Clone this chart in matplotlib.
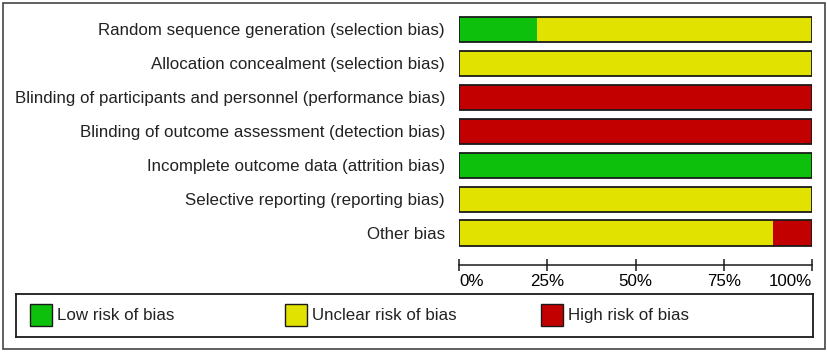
import matplotlib
matplotlib.use('Agg')
import matplotlib.pyplot as plt
import numpy as np
from matplotlib.patches import Rectangle

matplotlib.rc('font', family=['Liberation Sans', 'DejaVu Sans'], size=12.2)

domains = [
    'Random sequence generation (selection bias)',
    'Allocation concealment (selection bias)',
    'Blinding of participants and personnel (performance bias)',
    'Blinding of outcome assessment (detection bias)',
    'Incomplete outcome data (attrition bias)',
    'Selective reporting (reporting bias)',
    'Other bias',
]
# number of studies (out of 9) per judgement
low = np.array([2, 0, 0, 0, 9, 0, 0])
unclear = np.array([7, 9, 0, 0, 0, 9, 8])
high = np.array([0, 0, 9, 9, 0, 0, 1])
n_studies = 9

legend_labels = ['Low risk of bias', 'Unclear risk of bias', 'High risk of bias']
colors = ['#0cc00c', '#e2e200', '#c20000']
edge = '#1a1a1a'

W, H = 827, 354
fig = plt.figure(figsize=(W / 100, H / 100), dpi=100)

# outer border
fig.patches.append(Rectangle((3 / W, 5 / H), 822 / W, 346 / H, transform=fig.transFigure,
                             fill=False, edgecolor='#444444', linewidth=1.2))

ax = fig.add_axes([459 / W, 1 - 250 / H, 353 / W, 237.5 / H])
y = np.arange(len(domains))
pct_low = low / n_studies * 100
pct_unc = unclear / n_studies * 100
pct_high = high / n_studies * 100
segs = [pct_low, pct_unc, pct_high]
h = 0.74
for i in range(len(domains)):
    left = 0
    for s, c in zip(segs, colors):
        if s[i] > 0:
            ax.barh(y[i], s[i], left=left, height=h, color=c, edgecolor='none')
        left += s[i]
    ax.barh(y[i], 100, height=h, fill=False, edgecolor=edge, linewidth=1.3)

ax.set_xlim(0, 100)
ax.set_ylim(len(domains) - 0.5, -0.5)
ax.set_yticks(y)
ax.set_yticklabels(domains, color='#222222')
ax.tick_params(axis='y', length=0, pad=10)
ax.tick_params(axis='x', direction='inout', length=8.6, width=1.1, pad=2, color=edge)
ax.set_xticks([0, 25, 50, 75, 100])
ax.set_xticklabels(['0%', '25%', '50%', '75%', '100%'], color='#222222')
for s in ['top', 'left', 'right']:
    ax.spines[s].set_visible(False)
ax.spines['bottom'].set_position(('outward', 10.8))
ax.spines['bottom'].set_color(edge)
ax.spines['bottom'].set_linewidth(1.1)
ax.spines['bottom'].set_bounds(0, 100)
ax.patch.set_visible(False)

# legend box
lx0, lx1, ly0, ly1 = 16, 813, 294, 337
lax = fig.add_axes([lx0 / W, 1 - ly1 / H, (lx1 - lx0) / W, (ly1 - ly0) / H])
lax.set_xlim(lx0, lx1)
lax.set_ylim(ly1, ly0)
lax.set_xticks([])
lax.set_yticks([])
for s in lax.spines.values():
    s.set_color(edge)
    s.set_linewidth(1.3)
for xs, lab, c in zip([30, 285, 541], legend_labels, colors):
    lax.add_patch(Rectangle((xs, 304), 22, 22, facecolor=c, edgecolor=edge, linewidth=1))
    lax.text(xs + 27, 315.5, lab, va='center', ha='left', color='#222222')

# end labels sit inside the axis span
fig.canvas.draw()
ticks = ax.xaxis.get_major_ticks()
ticks[0].label1.set_horizontalalignment('left')
ticks[-1].label1.set_horizontalalignment('right')

fig.savefig('out.png', dpi=100)
